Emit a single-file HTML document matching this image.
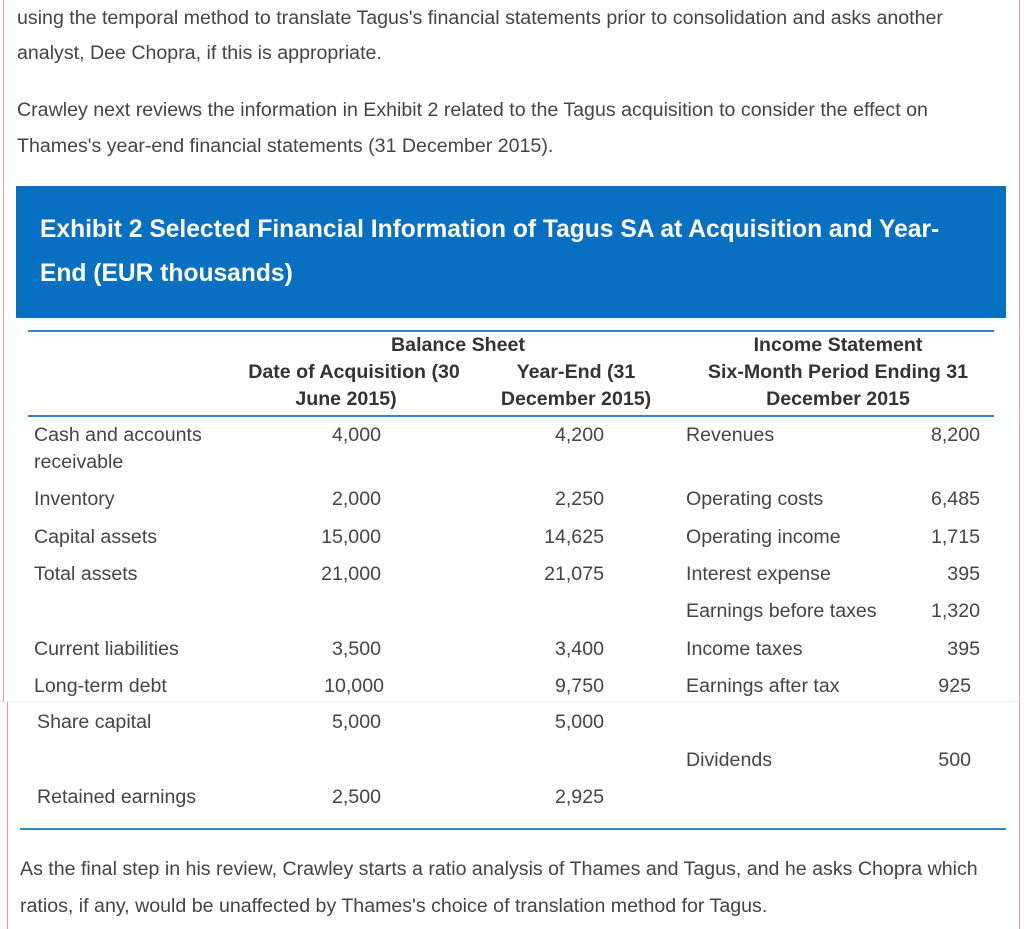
<!DOCTYPE html>
<html><head><meta charset="utf-8"><style>
body{margin:0;width:1024px;height:929px;background:#fff;position:relative;overflow:hidden;font-family:"Liberation Sans",Arial,sans-serif;color:#444;font-size:19.6px}
.t{position:absolute;white-space:nowrap;line-height:22px;transform:translateY(-11px)}
.r{text-align:right}
.c{text-align:center}
.b{font-weight:bold;color:#333}
.l{position:absolute}
</style></head><body>
<div class="l" style="left:3px;top:0;width:1px;height:701px;background:#dd9c9c"></div>
<div class="l" style="left:7px;top:702px;width:1px;height:227px;background:#dd9c9c"></div>
<div class="l" style="left:1019px;top:0;width:1px;height:929px;background:#dd9c9c"></div>
<div class="l" style="left:0;top:701px;width:1019px;height:1px;background:#eee"></div>

<div class="t" style="left:17px;top:18px">using the temporal method to translate Tagus's financial statements prior to consolidation and asks another</div>
<div class="t" style="left:17px;top:53px">analyst, Dee Chopra, if this is appropriate.</div>
<div class="t" style="left:17px;top:110px">Crawley next reviews the information in Exhibit 2 related to the Tagus acquisition to consider the effect on</div>
<div class="t" style="left:17px;top:146px">Thames's year-end financial statements (31 December 2015).</div>

<div class="l" style="left:16px;top:186px;width:990px;height:132px;background:#0870c0"></div>
<div class="t" style="left:40px;top:230px;color:#fff;font-weight:bold;font-size:24.6px;line-height:28px;transform:translateY(-14px)">Exhibit 2 Selected Financial Information of Tagus SA at Acquisition and Year-</div>
<div class="t" style="left:40px;top:274px;color:#fff;font-weight:bold;font-size:24.6px;line-height:28px;transform:translateY(-14px)">End (EUR thousands)</div>

<div class="l" style="left:28px;top:330px;width:966px;height:2px;background:#2f86c8"></div>
<div class="l" style="left:28px;top:415px;width:966px;height:2px;background:#2f86c8"></div>

<div class="t b c" style="left:358px;width:200px;top:345px">Balance Sheet</div>
<div class="t b c" style="left:234px;width:240px;top:372px">Date of Acquisition (30</div>
<div class="t b c" style="left:246px;width:200px;top:399px">June 2015)</div>
<div class="t b c" style="left:476px;width:200px;top:372px">Year-End (31</div>
<div class="t b c" style="left:476px;width:200px;top:399px">December 2015)</div>
<div class="t b c" style="left:688px;width:300px;top:345px">Income Statement</div>
<div class="t b c" style="left:688px;width:300px;top:372px">Six-Month Period Ending 31</div>
<div class="t b c" style="left:688px;width:300px;top:399px">December 2015</div>

<div class="t" style="left:34px;top:435px">Cash and accounts</div>
<div class="t" style="left:34px;top:462px">receivable</div>
<div class="t r" style="left:281px;width:100px;top:435px">4,000</div>
<div class="t r" style="left:504px;width:100px;top:435px">4,200</div>
<div class="t" style="left:686px;top:435px">Revenues</div>
<div class="t r" style="left:880px;width:100px;top:435px">8,200</div>

<div class="t" style="left:34px;top:499px">Inventory</div>
<div class="t r" style="left:281px;width:100px;top:499px">2,000</div>
<div class="t r" style="left:504px;width:100px;top:499px">2,250</div>
<div class="t" style="left:686px;top:499px">Operating costs</div>
<div class="t r" style="left:880px;width:100px;top:499px">6,485</div>

<div class="t" style="left:34px;top:537px">Capital assets</div>
<div class="t r" style="left:281px;width:100px;top:537px">15,000</div>
<div class="t r" style="left:504px;width:100px;top:537px">14,625</div>
<div class="t" style="left:686px;top:537px">Operating income</div>
<div class="t r" style="left:880px;width:100px;top:537px">1,715</div>

<div class="t" style="left:34px;top:574px">Total assets</div>
<div class="t r" style="left:281px;width:100px;top:574px">21,000</div>
<div class="t r" style="left:504px;width:100px;top:574px">21,075</div>
<div class="t" style="left:686px;top:574px">Interest expense</div>
<div class="t r" style="left:880px;width:100px;top:574px">395</div>

<div class="t" style="left:686px;top:611px">Earnings before taxes</div>
<div class="t r" style="left:880px;width:100px;top:611px">1,320</div>

<div class="t" style="left:34px;top:649px">Current liabilities</div>
<div class="t r" style="left:281px;width:100px;top:649px">3,500</div>
<div class="t r" style="left:504px;width:100px;top:649px">3,400</div>
<div class="t" style="left:686px;top:649px">Income taxes</div>
<div class="t r" style="left:880px;width:100px;top:649px">395</div>

<div class="t" style="left:34px;top:686px">Long-term debt</div>
<div class="t r" style="left:284px;width:100px;top:686px">10,000</div>
<div class="t r" style="left:504px;width:100px;top:686px">9,750</div>
<div class="t" style="left:686px;top:686px">Earnings after tax</div>
<div class="t r" style="left:871px;width:100px;top:686px">925</div>

<div class="t" style="left:37px;top:722px">Share capital</div>
<div class="t r" style="left:281px;width:100px;top:722px">5,000</div>
<div class="t r" style="left:504px;width:100px;top:722px">5,000</div>

<div class="t" style="left:686px;top:760px">Dividends</div>
<div class="t r" style="left:871px;width:100px;top:760px">500</div>

<div class="t" style="left:37px;top:797px">Retained earnings</div>
<div class="t r" style="left:281px;width:100px;top:797px">2,500</div>
<div class="t r" style="left:504px;width:100px;top:797px">2,925</div>

<div class="l" style="left:20px;top:828px;width:986px;height:2px;background:#2f86c8"></div>

<div class="t" style="left:20px;top:869px">As the final step in his review, Crawley starts a ratio analysis of Thames and Tagus, and he asks Chopra which</div>
<div class="t" style="left:20px;top:906px">ratios, if any, would be unaffected by Thames's choice of translation method for Tagus.</div>
</body></html>
